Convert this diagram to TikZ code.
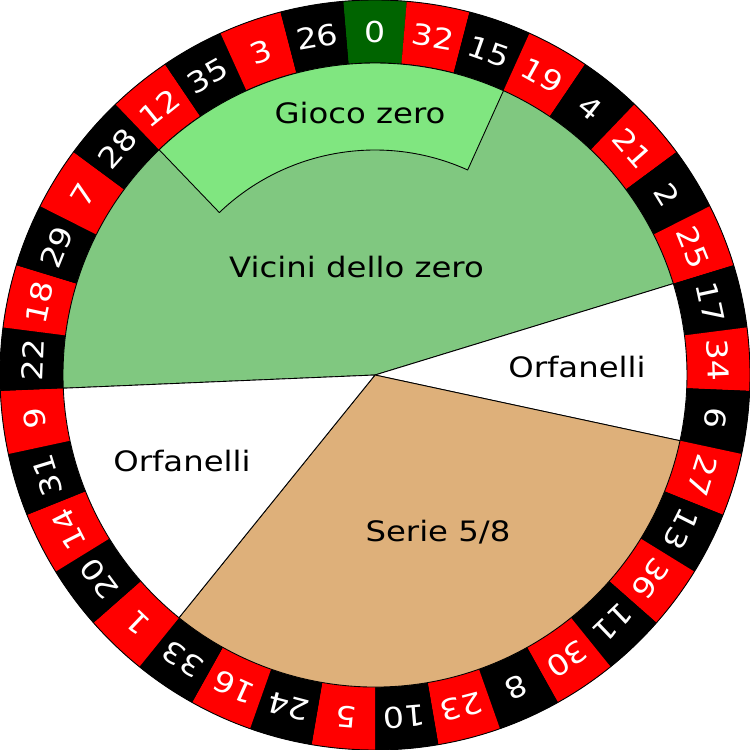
\documentclass[tikz,border=0pt]{standalone}
\usepackage{fontspec}
\setmainfont[FakeStretch=1.15]{DejaVu Sans}
\definecolor{zgreen}{RGB}{0,100,0}
\definecolor{pred}{RGB}{255,0,0}
\definecolor{vicini}{RGB}{128,200,128}
\definecolor{gioco}{RGB}{128,230,128}
\definecolor{serie}{RGB}{222,176,122}
\tikzset{
  num/.style={text=white, inner sep=0pt, font=\fontsize{16.4}{17}\selectfont},
  lab/.style={text=black, inner sep=0pt, anchor=base, font=\fontsize{16}{17}\selectfont},
  sector/.style={draw=black, line width=0.5pt, line join=round}
}
\begin{document}
\begin{tikzpicture}[x=0.02cm,y=0.02cm]
\useasboundingbox (-375,-375) rectangle (375,375);
% ring background
\fill[black, even odd rule] (0,0) circle[radius=375] (0,0) circle[radius=311];
\foreach \n/\c [count=\k from 0] in {0/zgreen,32/pred,15/black,19/pred,4/black,21/pred,2/black,25/pred,17/black,34/pred,6/black,27/pred,13/black,36/pred,11/black,30/pred,8/black,23/pred,10/black,5/pred,24/black,16/pred,33/black,1/pred,20/black,14/pred,31/black,9/pred,22/black,18/pred,29/black,7/pred,28/black,12/pred,35/black,3/pred,26/black}{
  \pgfmathsetmacro\a{90-\k*360/37}
  \pgfmathsetmacro\ao{\a+180/37}
  \pgfmathsetmacro\ae{\a-180/37}
  \fill[\c] (\ao:375) arc[start angle=\ao, end angle=\ae, radius=375] -- (\ae:311) arc[start angle=\ae, end angle=\ao, radius=311] -- cycle;
  \node[num, rotate=\a-90] (p\k) at (\a:343) {\n};
}
\draw[black, line width=0.5pt] (0,0) circle[radius=375];
% inner sectors
\filldraw[sector, fill=vicini] (0,0) -- (182.43:312) arc[start angle=182.43, end angle=17.03, radius=312] -- cycle;
\filldraw[sector, fill=gioco] (133.78:225) -- (133.78:312) arc[start angle=133.78, end angle=65.68, radius=312] -- (65.68:225) arc[start angle=65.68, end angle=133.78, radius=225] -- cycle;
\filldraw[sector, fill=white] (0,0) -- (17.03:312) arc[start angle=17.03, end angle=-12.16, radius=312] -- cycle;
\filldraw[sector, fill=serie] (0,0) -- (-12.16:312) arc[start angle=-12.16, end angle=-128.92, radius=312] -- cycle;
\filldraw[sector, fill=white] (0,0) -- (-128.92:312) arc[start angle=-128.92, end angle=-177.57, radius=312] -- cycle;
% labels
\node[lab] (gz) at (-15,251) {Gioco zero};
\node[lab] (vz) at (-18.5,97) {Vicini dello zero};
\node[lab] (or) at (202,-3) {Orfanelli};
\node[lab] (ol) at (-193,-96) {Orfanelli};
\node[lab] (s58) at (63,-166) {Serie 5/8};
\end{tikzpicture}
\end{document}
